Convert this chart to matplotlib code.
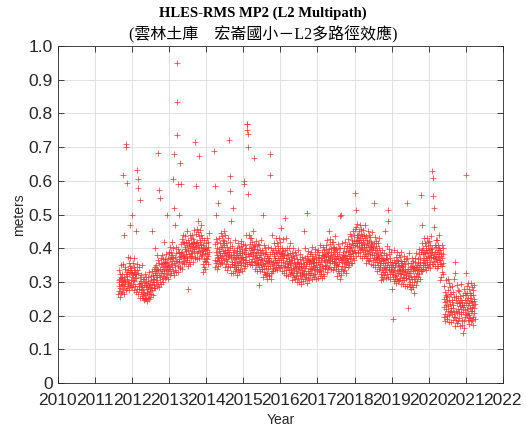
import numpy as np
import matplotlib
matplotlib.use("Agg")
import matplotlib.pyplot as plt

# RMS MP2 values in millimetres, one row per ~0.1 year
span_2011 = (2011.63, 2012.0)
mp2_2011 = [265, 307, 287, 335, 273, 300, 323, 255, 310, 283, 350, 293, 315, 267, 303,
            323, 270, 311, 290, 617, 300, 353, 280, 315, 263, 440, 305, 287, 343, 295,
            303, 340, 277, 323, 709, 700, 329, 309, 594, 283, 317, 375, 300, 335, 289,
            325, 298, 355, 276, 336, 470, 346, 290, 370, 306, 330, 284, 342, 500, 316]

span_2012 = (2012.0, 2013.0)
mp2_2012 = [285, 327, 307, 355, 293, 320, 343, 275, 330, 303, 370, 313, 335, 287, 323,
            323, 270, 311, 452, 337, 632, 353, 280, 605, 263, 327, 580, 287, 343, 295,
            278, 315, 252, 298, 543, 270, 304, 284, 320, 258, 292, 350, 275, 310, 264,
            280, 253, 310, 248, 291, 267, 301, 250, 325, 261, 285, 252, 297, 315, 271,
            245, 287, 267, 315, 253, 280, 303, 250, 290, 263, 330, 273, 295, 255, 283,
            318, 265, 306, 285, 332, 295, 450, 275, 310, 262, 322, 300, 282, 338, 290,
            308, 345, 282, 328, 400, 300, 334, 314, 350, 288, 322, 380, 305, 340, 294,
            335, 682, 365, 286, 573, 322, 356, 300, 550, 316, 340, 294, 352, 370, 326,
            310, 352, 332, 380, 318, 345, 368, 300, 355, 328, 420, 338, 360, 312, 348,
            368, 315, 356, 335, 382, 345, 500, 325, 360, 308, 372, 350, 332, 388, 340]

span_2013 = (2013.0, 2014.0)
mp2_2013 = [348, 385, 322, 368, 405, 340, 374, 354, 390, 328, 362, 420, 345, 380, 334,
            370, 605, 400, 321, 520, 357, 680, 335, 470, 351, 375, 329, 387, 405, 361,
            950, 834, 362, 736, 348, 590, 398, 330, 385, 358, 500, 368, 390, 342, 378,
            653, 345, 386, 590, 412, 375, 428, 355, 390, 338, 440, 380, 362, 418, 370,
            378, 415, 352, 398, 435, 370, 404, 384, 420, 358, 392, 450, 375, 410, 364,
            395, 280, 425, 346, 406, 382, 416, 360, 440, 376, 400, 354, 412, 430, 386,
            370, 412, 392, 440, 378, 405, 428, 360, 415, 388, 455, 398, 420, 372, 408,
            715, 375, 416, 585, 442, 405, 458, 385, 420, 368, 480, 410, 392, 448, 400,
            674, 435, 372, 418, 455, 390, 424, 404, 440, 378, 412, 470, 395, 430, 384,
            380, 353, 410, 331, 391, 367, 401, 345, 425, 361, 385, 339, 397, 415, 371]

span_2014a = (2014.0, 2014.08)
mp2_2014a = [360, 402, 382, 430, 368, 395, 418, 352, 405, 378, 445, 388]

span_2014b = (2014.22, 2015.0)
mp2_2014b = [688, 345, 585, 365, 412, 500, 428, 355, 390, 338, 402, 380, 362, 418, 370,
             373, 534, 347, 393, 430, 365, 399, 379, 415, 353, 387, 445, 370, 405, 359,
             405, 378, 435, 356, 416, 392, 426, 370, 450, 386, 410, 364, 422, 440, 396,
             345, 387, 367, 415, 353, 380, 403, 335, 390, 363, 430, 373, 395, 347, 383,
             388, 720, 376, 614, 402, 570, 418, 345, 380, 328, 480, 370, 352, 408, 360,
             353, 390, 327, 373, 520, 345, 379, 359, 395, 333, 367, 425, 350, 385, 339,
             370, 343, 400, 321, 381, 357, 391, 335, 415, 351, 375, 329, 387, 405, 361,
             393, 340, 381, 360, 407, 370, 423, 350, 385, 333, 397, 375, 357, 413, 365]

span_2015 = (2015.0, 2016.0)
mp2_2015 = [368, 600, 342, 388, 590, 360, 394, 374, 410, 348, 382, 440, 365, 400, 354,
            770, 768, 750, 740, 700, 382, 560, 360, 440, 376, 400, 354, 412, 430, 386,
            360, 402, 382, 430, 368, 395, 418, 350, 405, 378, 450, 388, 410, 362, 398,
            668, 340, 381, 360, 407, 370, 423, 350, 385, 333, 397, 375, 357, 413, 365,
            353, 390, 290, 373, 410, 345, 379, 359, 395, 333, 367, 425, 350, 385, 339,
            365, 338, 395, 316, 500, 352, 386, 330, 410, 346, 370, 324, 382, 400, 356,
            320, 362, 342, 390, 328, 355, 378, 310, 365, 338, 405, 348, 370, 322, 358,
            370, 317, 680, 617, 384, 347, 400, 327, 362, 310, 440, 352, 334, 390, 342,
            358, 395, 332, 378, 415, 350, 384, 364, 400, 338, 372, 430, 355, 390, 344,
            385, 358, 415, 336, 396, 372, 406, 350, 430, 366, 390, 344, 402, 420, 376]

span_2016 = (2016.0, 2017.0)
mp2_2016 = [342, 384, 364, 460, 350, 377, 400, 332, 387, 360, 427, 370, 392, 344, 380,
            380, 327, 490, 347, 394, 357, 430, 337, 372, 320, 384, 362, 344, 400, 352,
            343, 380, 317, 363, 400, 335, 369, 349, 385, 323, 357, 415, 340, 375, 329,
            355, 328, 385, 306, 366, 342, 376, 320, 400, 336, 360, 314, 372, 390, 346,
            310, 352, 332, 380, 318, 345, 368, 300, 355, 328, 395, 338, 360, 312, 348,
            353, 300, 341, 320, 367, 330, 383, 310, 345, 293, 357, 335, 317, 373, 325,
            328, 365, 302, 348, 450, 320, 354, 334, 370, 308, 342, 400, 325, 360, 314,
            347, 505, 377, 298, 358, 334, 368, 312, 392, 328, 352, 306, 364, 382, 338,
            320, 362, 342, 390, 328, 355, 378, 310, 365, 338, 405, 348, 370, 322, 358,
            368, 315, 356, 335, 382, 345, 398, 325, 360, 308, 372, 350, 332, 388, 340]

span_2017 = (2017.0, 2018.0)
mp2_2017 = [338, 375, 312, 358, 395, 330, 364, 344, 380, 318, 352, 410, 335, 370, 324,
            360, 333, 390, 311, 371, 347, 381, 325, 405, 341, 365, 319, 377, 395, 351,
            340, 382, 362, 410, 348, 375, 398, 330, 385, 358, 425, 368, 390, 342, 378,
            398, 345, 450, 365, 412, 375, 428, 355, 390, 338, 402, 380, 362, 418, 370,
            363, 400, 337, 383, 420, 355, 389, 369, 405, 343, 377, 435, 360, 395, 349,
            367, 340, 397, 318, 378, 354, 388, 332, 412, 348, 372, 326, 384, 402, 358,
            496, 372, 310, 400, 338, 365, 500, 320, 375, 348, 415, 358, 380, 332, 368,
            388, 335, 376, 355, 402, 365, 418, 345, 380, 328, 392, 370, 352, 408, 360,
            370, 407, 344, 390, 427, 362, 396, 376, 412, 350, 384, 442, 367, 402, 356,
            405, 378, 435, 356, 416, 392, 426, 370, 450, 386, 410, 364, 422, 440, 396]

span_2018 = (2018.0, 2019.0)
mp2_2018 = [388, 563, 410, 458, 513, 423, 463, 378, 433, 406, 473, 416, 438, 390, 426,
            438, 385, 426, 405, 452, 415, 468, 395, 430, 378, 442, 420, 402, 458, 410,
            398, 435, 372, 418, 455, 390, 424, 404, 440, 378, 412, 470, 395, 430, 384,
            405, 378, 435, 356, 416, 392, 426, 370, 450, 386, 410, 364, 422, 440, 396,
            362, 404, 384, 432, 370, 397, 420, 352, 407, 380, 447, 390, 412, 364, 400,
            403, 350, 534, 370, 417, 380, 433, 360, 395, 343, 407, 385, 367, 423, 375,
            358, 395, 332, 378, 415, 350, 384, 364, 400, 338, 372, 430, 355, 390, 344,
            350, 323, 380, 306, 361, 337, 371, 315, 395, 331, 355, 309, 367, 385, 341,
            322, 364, 344, 450, 330, 357, 380, 312, 367, 340, 407, 350, 372, 324, 360,
            513, 315, 480, 335, 382, 345, 398, 325, 360, 308, 372, 350, 332, 388, 340]

span_2019 = (2019.0, 2020.0)
mp2_2019 = [323, 360, 280, 343, 190, 315, 349, 329, 365, 303, 337, 395, 320, 355, 309,
            345, 318, 375, 296, 356, 332, 366, 310, 390, 326, 350, 304, 362, 380, 336,
            305, 347, 327, 375, 313, 340, 363, 295, 350, 323, 390, 333, 355, 307, 343,
            348, 295, 336, 315, 362, 325, 378, 305, 340, 288, 352, 330, 312, 368, 320,
            313, 534, 287, 333, 370, 222, 339, 319, 355, 293, 327, 385, 310, 345, 299,
            327, 285, 357, 278, 338, 314, 348, 292, 372, 308, 332, 286, 344, 362, 318,
            300, 342, 267, 370, 308, 335, 358, 290, 345, 318, 385, 328, 350, 302, 338,
            368, 315, 356, 335, 382, 345, 398, 325, 360, 308, 372, 350, 332, 388, 340,
            558, 395, 332, 470, 415, 350, 384, 364, 400, 338, 372, 430, 355, 390, 344,
            385, 358, 415, 336, 396, 372, 406, 350, 430, 366, 390, 344, 402, 420, 376]

span_2020a = (2020.0, 2020.4)
mp2_2020a = [352, 394, 374, 422, 360, 387, 410, 342, 397, 370, 437, 380, 402, 354, 390,
             630, 353, 609, 373, 556, 383, 520, 363, 463, 346, 410, 388, 370, 426, 378,
             368, 405, 342, 388, 425, 360, 394, 374, 410, 348, 382, 440, 365, 400, 354,
             365, 306, 395, 316, 376, 352, 386, 330, 410, 346, 370, 324, 382, 400, 356]

span_2020b = (2020.4, 2021.0)
mp2_2020b = [196, 251, 225, 287, 206, 241, 271, 183, 255, 219, 307, 232, 261, 199, 245,
             258, 189, 310, 215, 277, 229, 297, 202, 248, 180, 264, 235, 212, 284, 222,
             214, 263, 181, 240, 289, 204, 248, 222, 269, 188, 233, 308, 210, 256, 196,
             360, 196, 326, 168, 246, 215, 259, 186, 290, 207, 238, 178, 254, 277, 220,
             183, 238, 212, 274, 193, 228, 258, 170, 242, 206, 294, 219, 248, 186, 232,
             241, 172, 226, 148, 260, 212, 280, 185, 231, 163, 247, 218, 195, 267, 205]

span_2021 = (2021.0, 2021.25)
mp2_2021 = [618, 261, 326, 238, 287, 202, 246, 220, 267, 186, 231, 296, 208, 254, 194,
            238, 203, 278, 175, 253, 222, 266, 193, 297, 214, 245, 185, 261, 284, 227,
            186, 241, 215, 277, 196, 231, 261, 173, 245, 209, 290, 222, 251, 189, 235]

segments = [(span_2011, mp2_2011), (span_2012, mp2_2012), (span_2013, mp2_2013),
            (span_2014a, mp2_2014a), (span_2014b, mp2_2014b), (span_2015, mp2_2015),
            (span_2016, mp2_2016), (span_2017, mp2_2017), (span_2018, mp2_2018),
            (span_2019, mp2_2019), (span_2020a, mp2_2020a), (span_2020b, mp2_2020b),
            (span_2021, mp2_2021)]

year_ticks = list(range(2010, 2023))
value_ticks = [0, 0.1, 0.2, 0.3, 0.4, 0.5, 0.6, 0.7, 0.8, 0.9, 1.0]
value_labels = ['0', '0.1', '0.2', '0.3', '0.4', '0.5', '0.6', '0.7', '0.8', '0.9', '1.0']

plt.rcParams['font.family'] = ['Liberation Sans', 'DejaVu Sans']

fig = plt.figure(figsize=(5.26, 4.30), dpi=100)
ax = fig.add_axes([0.110, 0.109, 0.846, 0.784])

for (t0, t1), vals in segments:
    t = np.linspace(t0, t1, len(vals), endpoint=False)
    ax.plot(t, np.array(vals) / 1000.0, '+', color='#ff3030', markersize=4.5,
            markeredgewidth=0.5)

ax.set_xlim(2010, 2022)
ax.set_ylim(0, 1.0)
ax.set_xticks(year_ticks)
ax.set_xticklabels([str(y) for y in year_ticks])
ax.set_yticks(value_ticks)
ax.set_yticklabels(value_labels)
ax.tick_params(direction='in', top=True, right=True, labelsize=12.5, length=4, width=0.6,
               colors='#262626')
ax.tick_params(axis='x', pad=7)
ax.grid(True, color='#dcdcdc', linewidth=0.6)
ax.set_axisbelow(True)
for s in ax.spines.values():
    s.set_color('#262626')
    s.set_linewidth(0.6)

ax.set_xlabel('Year', fontsize=10, color='#262626', labelpad=4)
ax.set_ylabel('meters', fontsize=10, color='#262626', labelpad=2)

fig.text(0.5, 0.970, 'HLES-RMS MP2 (L2 Multipath)', ha='center', va='center',
         fontsize=10.5, fontweight='bold', family=['Liberation Serif', 'DejaVu Serif'])
fig.text(0.5, 0.919, '(雲林土庫　宏崙國小－L2多路徑效應)', ha='center', va='center',
         fontsize=11.5, family=['Liberation Serif', 'Noto Sans CJK TC', 'DejaVu Sans'])

fig.savefig('out.png', dpi=100)
